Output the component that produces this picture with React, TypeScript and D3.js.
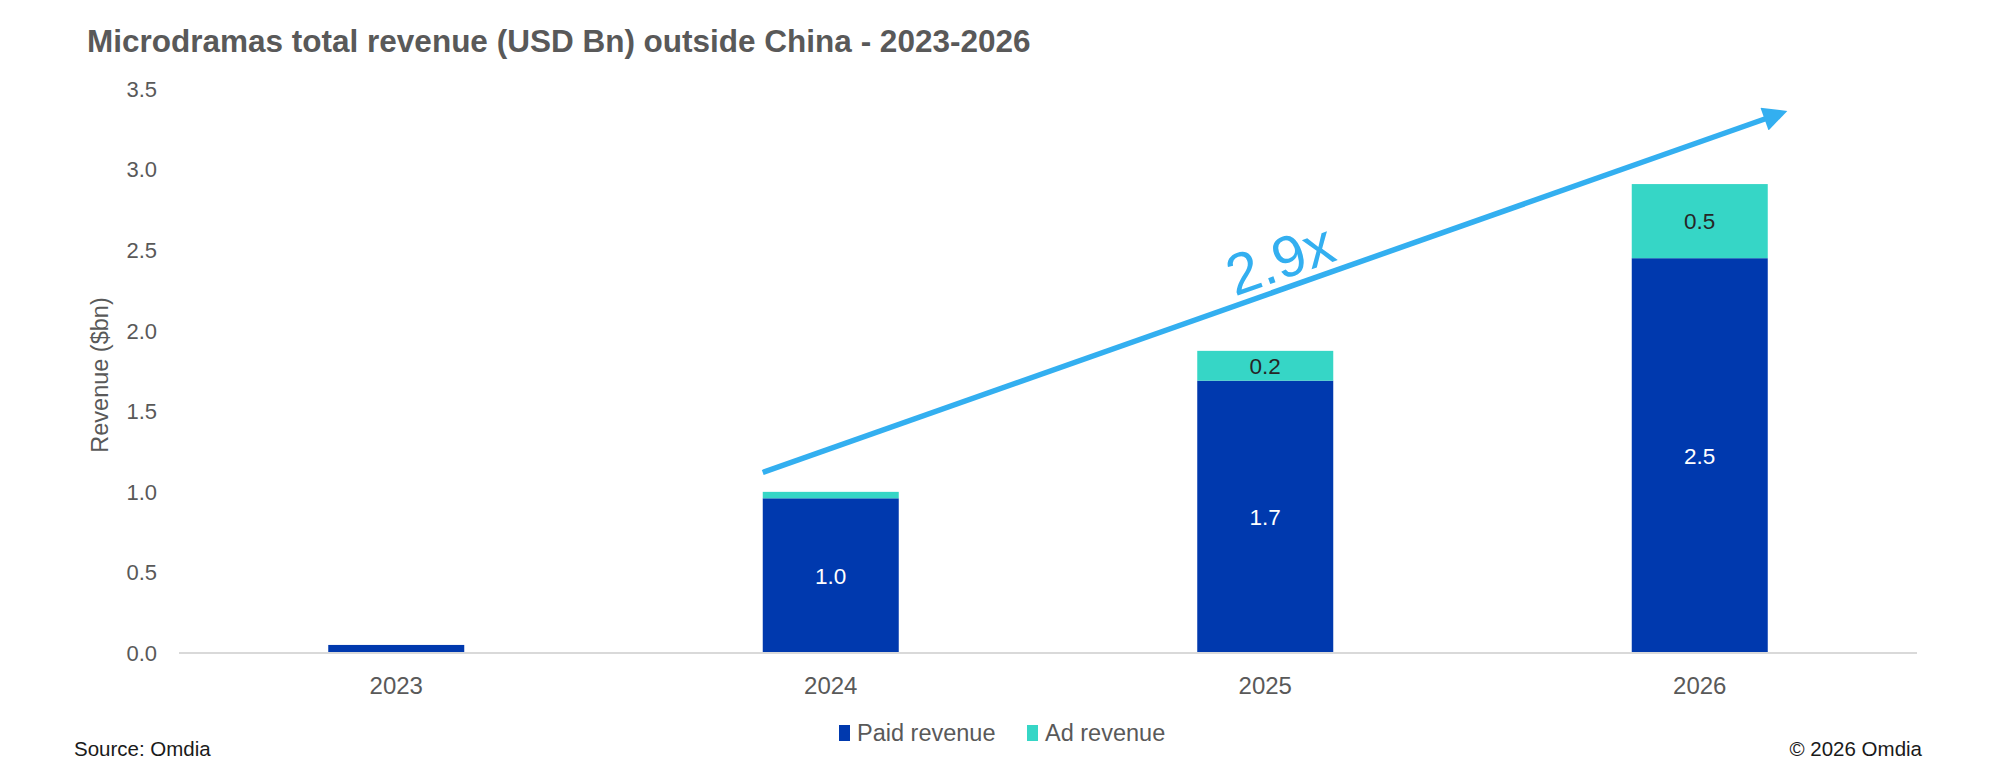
import * as d3 from "d3";

const years = ["2023", "2024", "2025", "2026"];
const paidRevenue = [0.05, 0.96, 1.69, 2.45];
const adRevenue = [0.0, 0.04, 0.185, 0.46];
const paidLabels = ["", "1.0", "1.7", "2.5"];
const adLabels = ["", "", "0.2", "0.5"];
const yTicks = [0, 0.5, 1.0, 1.5, 2.0, 2.5, 3.0, 3.5];
const seriesNames = ["Paid revenue", "Ad revenue"];
const growthLabel = "2.9x";
// arrow anchors in data terms: [year, value]
const arrowFrom: [string, number] = ["2024", 1.12];
const arrowTo: [string, number] = ["2026", 3.36];

const W = 2000;
const H = 762;
const mg = { top: 89, right: 83, bottom: 109, left: 179 };
const FONT = "'Liberation Sans', Arial, sans-serif";
const GREY = "#595959";
const PAID = "#0039ae";
const AD = "#36d6c6";
const ARROW = "#33aff0";

export default function App() {
  const x = d3
    .scaleBand<string>()
    .domain(years)
    .range([mg.left, W - mg.right])
    .paddingInner(0.687)
    .paddingOuter(0.3435);
  const y = d3.scaleLinear([0, 3.5], [H - mg.bottom, mg.top]);

  const rows = years.map((yr, i) => ({
    year: yr,
    paid: paidRevenue[i],
    ad: adRevenue[i],
  }));
  const stacked = d3.stack<(typeof rows)[number]>().keys(["paid", "ad"])(rows);
  const colors = [PAID, AD];
  const labelSets = [paidLabels, adLabels];
  const labelFill = ["#ffffff", "#262626"];

  const bw = x.bandwidth();
  const ax1 = x(arrowFrom[0])!;
  const ay1 = y(arrowFrom[1]);
  const ax2 = x(arrowTo[0])! + bw + 18;
  const ay2 = y(arrowTo[1]);
  const rad = Math.atan2(ay2 - ay1, ax2 - ax1);
  const angle = (rad * 180) / Math.PI;
  const tx = ax1 + (ax2 - ax1) * 0.515;
  const ty = ay1 + (ay2 - ay1) * 0.515;

  const base = H - mg.bottom;

  return (
    <svg width={W} height={H} style={{ display: "block", background: "#fff" }}>
      <style>{"body{margin:0}"}</style>
      <defs>
        <marker
          id="arrowHead"
          viewBox="0 0 10 10"
          refX="6"
          refY="5"
          markerWidth="4.8"
          markerHeight="4.4"
          orient="auto"
          markerUnits="strokeWidth"
        >
          <path d="M0,0 L10,5 L0,10 z" fill={ARROW} />
        </marker>
      </defs>

      <text
        x={87}
        y={52}
        fontFamily={FONT}
        fontWeight="700"
        fontSize="31.5"
        fill={GREY}
      >
        Microdramas total revenue (USD Bn) outside China - 2023-2026
      </text>

      {yTicks.map((t) => (
        <text
          key={t}
          x={157}
          y={y(t)}
          dy="0.36em"
          textAnchor="end"
          fontFamily={FONT}
          fontSize="22"
          fill={GREY}
        >
          {t.toFixed(1)}
        </text>
      ))}

      <text
        transform={`translate(100, ${(mg.top + base) / 2 + 4}) rotate(-90)`}
        textAnchor="middle"
        dy="0.36em"
        fontFamily={FONT}
        fontSize="23.5"
        fill={GREY}
      >
        Revenue ($bn)
      </text>

      {stacked.map((s, si) =>
        s.map((d, i) => {
          const h = y(d[0]) - y(d[1]);
          if (h <= 0) return null;
          const lbl = labelSets[si][i];
          return (
            <g key={`${si}-${i}`}>
              <rect
                x={x(years[i])}
                y={y(d[1])}
                width={bw}
                height={h}
                fill={colors[si]}
              />
              {lbl && (
                <text
                  x={x(years[i])! + bw / 2}
                  y={(y(d[0]) + y(d[1])) / 2}
                  dy="0.36em"
                  textAnchor="middle"
                  fontFamily={FONT}
                  fontSize="22.5"
                  fill={labelFill[si]}
                >
                  {lbl}
                </text>
              )}
            </g>
          );
        })
      )}

      <line
        x1={mg.left}
        x2={W - mg.right}
        y1={base}
        y2={base}
        stroke="#d9d9d9"
        strokeWidth={2}
      />

      {years.map((yr) => (
        <text
          key={yr}
          x={x(yr)! + bw / 2}
          y={685}
          dy="0.36em"
          textAnchor="middle"
          fontFamily={FONT}
          fontSize="24"
          fill={GREY}
        >
          {yr}
        </text>
      ))}

      <line
        x1={ax1}
        y1={ay1}
        x2={ax2 - 8 * Math.cos(rad)}
        y2={ay2 - 8 * Math.sin(rad)}
        stroke={ARROW}
        strokeWidth={5.5}
        markerEnd="url(#arrowHead)"
      />
      <text
        transform={`translate(${tx}, ${ty}) rotate(${angle})`}
        textAnchor="middle"
        dy="-9"
        fontFamily={FONT}
        fontWeight="400"
        fontSize="58"
        fill={ARROW}
      >
        {growthLabel}
      </text>

      <g transform="translate(839, 733)">
        {seriesNames.map((name, i) => (
          <g key={name} transform={`translate(${i * 188}, 0)`}>
            <rect x={0} y={-8} width={11} height={16} fill={colors[i]} />
            <text
              x={18}
              y={0}
              dy="0.36em"
              fontFamily={FONT}
              fontSize="23.5"
              fill={GREY}
            >
              {name}
            </text>
          </g>
        ))}
      </g>

      <text
        x={74}
        y={749}
        dy="0.36em"
        fontFamily={FONT}
        fontSize="20.5"
        fill="#1a1a1a"
      >
        Source: Omdia
      </text>
      <text
        x={1922}
        y={749}
        dy="0.36em"
        textAnchor="end"
        fontFamily={FONT}
        fontSize="20.5"
        fill="#1a1a1a"
      >
        © 2026 Omdia
      </text>
    </svg>
  );
}
